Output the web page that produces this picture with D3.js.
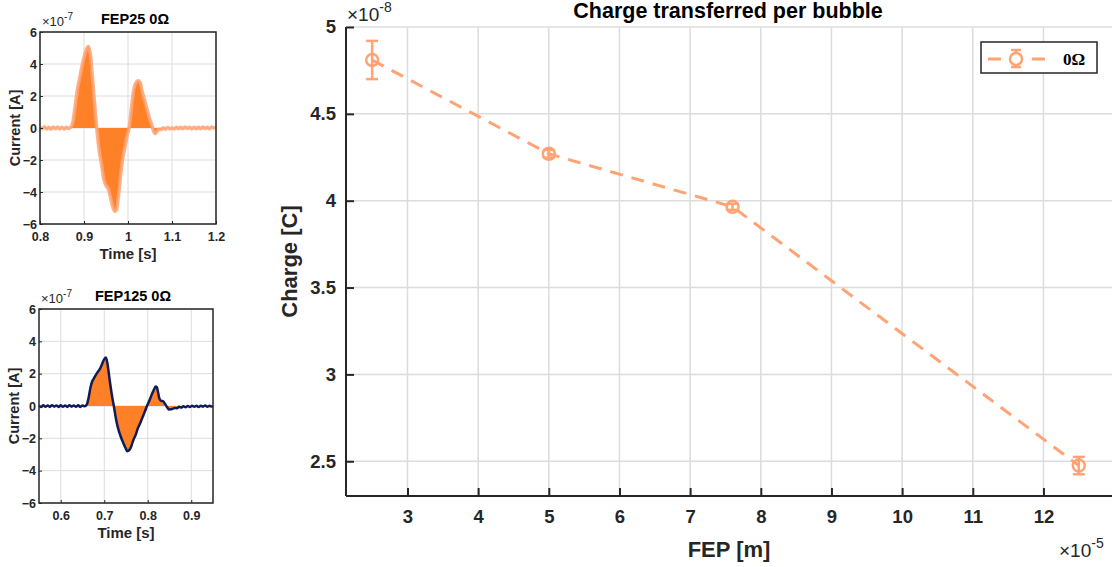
<!DOCTYPE html>
<html>
<head>
<meta charset="utf-8">
<script src="https://cdn.jsdelivr.net/npm/d3@7"></script>
<style>
  body { margin: 0; background: #fff; }
  svg { display: block; font-family: "Liberation Sans", Arial, sans-serif; }
  .tick text { font-weight: bold; fill: #262626; }
  .domain { display: none; }
</style>
</head>
<body>
<svg width="1116" height="567"></svg>
<script>
'use strict';

// ---- main chart data (FEP in 1e-5 m, charge in 1e-8 C)
const fep = [2.5, 5, 7.6, 12.5];
const charge = [4.81, 4.27, 3.965, 2.475];
const chargeErr = [0.11, 0.022, 0.018, 0.05];
const fepTicks = [3, 4, 5, 6, 7, 8, 9, 10, 11, 12];
const chargeTicks = [2.5, 3, 3.5, 4, 4.5, 5];

// ---- FEP25 current trace (time s, current 1e-7 A)
const timeA = [0.800, 0.805, 0.810, 0.815, 0.820, 0.825, 0.830, 0.835, 0.840, 0.845, 0.850, 0.855, 0.860, 0.865, 0.870,
  0.875, 0.880, 0.885, 0.890, 0.895, 0.900, 0.905, 0.910, 0.914, 0.918, 0.922, 0.926, 0.930, 0.935, 0.940,
  0.945, 0.950, 0.955, 0.960, 0.965, 0.970, 0.974, 0.978, 0.983, 0.988, 0.993, 0.998, 1.003, 1.008, 1.012,
  1.016, 1.020, 1.024, 1.028, 1.032, 1.036, 1.040, 1.045, 1.050, 1.054, 1.058, 1.062, 1.066, 1.070, 1.075,
  1.080, 1.085, 1.090, 1.095, 1.100, 1.105, 1.110, 1.115, 1.120, 1.125, 1.130, 1.135, 1.140, 1.145, 1.150,
  1.155, 1.160, 1.165, 1.170, 1.175, 1.180, 1.185, 1.190, 1.195, 1.200];
const currentA = [0.05, -0.05, 0.08, -0.06, 0.05, -0.08, 0.06, -0.04, 0.07, -0.06, 0.04, -0.07, 0.05, -0.03, 0.05,
  0.4, 1.4, 2.4, 3.1, 3.8, 4.4, 4.9, 5.1, 4.7, 3.6, 2.2, 0.9, -0.3, -1.5, -2.3,
  -3.2, -3.6, -3.8, -4.3, -4.9, -5.2, -5.1, -4.3, -3.0, -1.9, -1.2, -0.5, 0.1, 1.3, 2.2,
  2.7, 2.9, 2.95, 2.8, 2.3, 1.9, 1.5, 1.0, 0.5, 0.2, -0.2, -0.35, -0.2, -0.08, -0.1,
  0.02, -0.08, 0.03, -0.05, 0.0, -0.06, 0.04, -0.05, 0.05, -0.04, 0.06, -0.03, 0.05, -0.06, 0.04,
  -0.05, 0.05, -0.04, 0.06, -0.03, 0.05, -0.05, 0.06, 0.0, 0.05];

// ---- FEP125 current trace
const timeB = [0.550, 0.555, 0.560, 0.565, 0.570, 0.575, 0.580, 0.585, 0.590, 0.595, 0.600, 0.605, 0.610, 0.615, 0.620,
  0.625, 0.630, 0.635, 0.640, 0.645, 0.650, 0.655, 0.660, 0.664, 0.668, 0.672, 0.676, 0.680, 0.685, 0.690,
  0.695, 0.700, 0.704, 0.708, 0.713, 0.718, 0.722, 0.727, 0.732, 0.738, 0.744, 0.749, 0.753, 0.757, 0.762,
  0.767, 0.772, 0.777, 0.782, 0.788, 0.794, 0.799, 0.804, 0.809, 0.814, 0.818, 0.821, 0.824, 0.827, 0.831,
  0.835, 0.840, 0.845, 0.849, 0.853, 0.857, 0.862, 0.867, 0.872, 0.877, 0.882, 0.887, 0.892, 0.897, 0.902,
  0.907, 0.912, 0.917, 0.922, 0.927, 0.932, 0.937, 0.942, 0.947, 0.950];
const currentB = [0.02, -0.06, 0.04, -0.05, 0.03, -0.06, 0.05, -0.04, 0.03, -0.06, 0.04, -0.05, 0.03, -0.06, 0.05,
  -0.04, 0.03, -0.05, 0.04, -0.06, 0.03, -0.02, 0.1, 0.5, 1.1, 1.5, 1.7, 1.9, 2.1, 2.3,
  2.6, 2.9, 3.0, 2.5, 1.5, 0.6, 0.0, -0.8, -1.4, -1.9, -2.3, -2.6, -2.8, -2.75, -2.5,
  -2.1, -1.8, -1.4, -1.1, -0.7, -0.3, 0.05, 0.35, 0.7, 1.0, 1.2, 1.15, 0.8, 0.45, 0.32,
  0.3, 0.12, -0.1, -0.22, -0.2, -0.18, -0.12, -0.14, -0.05, -0.1, -0.02, -0.08, 0.0, -0.06, 0.02,
  -0.05, 0.01, -0.06, 0.02, -0.04, 0.03, -0.05, 0.02, -0.03, 0.0];

const svg = d3.select("svg");
const ink = "#262626";
const gridColor = "#dcdcdc";
const orange = "#ff8127";
const lightOrange = "#ffa375";

function drawTrace(opts) {
  const x = d3.scaleLinear().domain(opts.xDomain).range([opts.left, opts.right]);
  const y = d3.scaleLinear().domain([-6, 6]).range([opts.bottom, opts.top]);
  const g = svg.append("g");
  const data = opts.t.map((t, i) => ({t: t, v: opts.v[i]}));
  const yTicks = [-6, -4, -2, 0, 2, 4, 6];

  // grid
  g.selectAll(".gx").data(opts.xTicks).join("line")
    .attr("x1", d => x(d)).attr("x2", d => x(d))
    .attr("y1", opts.top).attr("y2", opts.bottom)
    .attr("stroke", gridColor).attr("stroke-width", 1);
  g.selectAll(".gy").data(yTicks).join("line")
    .attr("y1", d => y(d)).attr("y2", d => y(d))
    .attr("x1", opts.left).attr("x2", opts.right)
    .attr("stroke", gridColor).attr("stroke-width", 1);

  const area = d3.area().x(d => x(d.t)).y0(y(0)).y1(d => y(d.v)).curve(d3.curveMonotoneX);
  const line = d3.line().x(d => x(d.t)).y(d => y(d.v)).curve(d3.curveMonotoneX);
  g.append("path").datum(data).attr("d", area).attr("fill", orange);
  g.append("path").datum(data).attr("d", line)
    .attr("fill", "none").attr("stroke", opts.lineColor)
    .attr("stroke-width", opts.lineWidth).attr("stroke-opacity", opts.lineOpacity)
    .attr("stroke-linejoin", "round");

  // box
  g.append("rect").attr("x", opts.left).attr("y", opts.top)
    .attr("width", opts.right - opts.left).attr("height", opts.bottom - opts.top)
    .attr("fill", "none").attr("stroke", ink).attr("stroke-width", 1.5);

  const xAxis = d3.axisBottom(x).tickValues(opts.xTicks).tickSize(-3).tickPadding(8)
    .tickFormat(d3.format("~g"));
  g.append("g").attr("transform", "translate(0," + opts.bottom + ")").call(xAxis)
    .call(s => s.selectAll("text").attr("font-size", 12.5))
    .call(s => s.selectAll(".tick line").attr("stroke", ink));
  const yAxis = d3.axisLeft(y).tickValues(yTicks).tickSize(-3).tickPadding(3);
  g.append("g").attr("transform", "translate(" + opts.left + ",0)").call(yAxis)
    .call(s => s.selectAll("text").attr("font-size", 12.5))
    .call(s => s.selectAll(".tick line").attr("stroke", ink));

  const cx = (opts.left + opts.right) / 2;
  g.append("text").attr("x", opts.titleX).attr("y", opts.top - 8)
    .attr("text-anchor", "middle").attr("font-size", 14.5).attr("font-weight", "bold")
    .attr("fill", "#000").text(opts.title);
  const ex = g.append("text").attr("x", opts.left + 2).attr("y", opts.top - 6)
    .attr("font-size", 13).attr("fill", ink);
  ex.append("tspan").text("\u00d710");
  ex.append("tspan").attr("dy", -6).attr("font-size", 10).text("-7");
  g.append("text").attr("x", cx).attr("y", opts.bottom + 35)
    .attr("text-anchor", "middle").attr("font-size", 15).attr("font-weight", "bold")
    .attr("fill", ink).text("Time [s]");
  g.append("text")
    .attr("transform", "translate(" + (opts.left - 20) + "," + ((opts.top + opts.bottom) / 2) + ") rotate(-90)")
    .attr("text-anchor", "middle").attr("font-size", 14.5).attr("font-weight", "bold")
    .attr("fill", ink).text("Current [A]");
}

drawTrace({
  t: timeA, v: currentA, xDomain: [0.8, 1.2], xTicks: [0.8, 0.9, 1, 1.1, 1.2],
  left: 40, right: 216, top: 32, bottom: 224, title: "FEP25 0\u03a9", titleX: 135,
  lineColor: lightOrange, lineWidth: 3.5, lineOpacity: 0.85
});
drawTrace({
  t: timeB, v: currentB, xDomain: [0.55, 0.95], xTicks: [0.6, 0.7, 0.8, 0.9],
  left: 39, right: 213, top: 309, bottom: 503, title: "FEP125 0\u03a9", titleX: 133,
  lineColor: "#101c5a", lineWidth: 2.5, lineOpacity: 1
});

// ---- main chart
const margin = {left: 346, right: 1112, top: 27, bottom: 496};
const x = d3.scaleLinear().domain([2.13, 12.97]).range([margin.left, margin.right]);
const y = d3.scaleLinear().domain([2.3, 5]).range([margin.bottom, margin.top]);
const main = svg.append("g");
const pts = fep.map((f, i) => ({x: f, y: charge[i], e: chargeErr[i]}));

main.selectAll(".gx").data(fepTicks).join("line")
  .attr("x1", d => x(d)).attr("x2", d => x(d))
  .attr("y1", margin.top).attr("y2", margin.bottom)
  .attr("stroke", gridColor).attr("stroke-width", 1.5);
main.selectAll(".gy").data(chargeTicks).join("line")
  .attr("y1", d => y(d)).attr("y2", d => y(d))
  .attr("x1", margin.left).attr("x2", margin.right)
  .attr("stroke", gridColor).attr("stroke-width", 1.5);

main.append("path").datum(pts)
  .attr("d", d3.line().x(d => x(d.x)).y(d => y(d.y)))
  .attr("fill", "none").attr("stroke", lightOrange).attr("stroke-width", 3)
  .attr("stroke-dasharray", "13,9");

const eb = main.selectAll(".eb").data(pts).join("g").attr("stroke", lightOrange).attr("stroke-width", 2.5);
eb.append("line").attr("x1", d => x(d.x)).attr("x2", d => x(d.x))
  .attr("y1", d => y(d.y - d.e)).attr("y2", d => y(d.y + d.e));
eb.append("line").attr("x1", d => x(d.x) - 6).attr("x2", d => x(d.x) + 6)
  .attr("y1", d => y(d.y - d.e)).attr("y2", d => y(d.y - d.e));
eb.append("line").attr("x1", d => x(d.x) - 6).attr("x2", d => x(d.x) + 6)
  .attr("y1", d => y(d.y + d.e)).attr("y2", d => y(d.y + d.e));
eb.append("circle").attr("cx", d => x(d.x)).attr("cy", d => y(d.y)).attr("r", 6)
  .attr("fill", "none");

main.append("line").attr("x1", margin.left).attr("x2", margin.left)
  .attr("y1", margin.top).attr("y2", margin.bottom).attr("stroke", ink).attr("stroke-width", 2);
main.append("line").attr("x1", margin.left).attr("x2", margin.right)
  .attr("y1", margin.bottom).attr("y2", margin.bottom).attr("stroke", ink).attr("stroke-width", 2);

main.append("g").attr("transform", "translate(0," + margin.bottom + ")")
  .call(d3.axisBottom(x).tickValues(fepTicks).tickSize(-8).tickPadding(14))
  .call(s => s.selectAll("text").attr("font-size", 18.5))
  .call(s => s.selectAll(".tick line").attr("stroke", ink).attr("stroke-width", 2));
main.append("g").attr("transform", "translate(" + margin.left + ",0)")
  .call(d3.axisLeft(y).tickValues(chargeTicks).tickSize(-8).tickPadding(10).tickFormat(d3.format("~g")))
  .call(s => s.selectAll("text").attr("font-size", 18.5))
  .call(s => s.selectAll(".tick line").attr("stroke", ink).attr("stroke-width", 2));

main.append("text").attr("x", 728).attr("y", 18).attr("text-anchor", "middle")
  .attr("font-size", 21.5).attr("font-weight", "bold").attr("fill", "#000")
  .text("Charge transferred per bubble");
main.append("text").attr("x", 729).attr("y", 557).attr("text-anchor", "middle")
  .attr("font-size", 22).attr("font-weight", "bold").attr("fill", ink).text("FEP [m]");
main.append("text").attr("transform", "translate(297," + ((margin.top + margin.bottom) / 2) + ") rotate(-90)")
  .attr("text-anchor", "middle").attr("font-size", 22).attr("font-weight", "bold")
  .attr("fill", ink).text("Charge [C]");

const ey = main.append("text").attr("x", 347).attr("y", 21).attr("font-size", 19).attr("fill", ink);
ey.append("tspan").text("\u00d710");
ey.append("tspan").attr("dy", -9).attr("font-size", 14).text("-8");
const ex5 = main.append("text").attr("x", 1059).attr("y", 557).attr("font-size", 19).attr("fill", ink);
ex5.append("tspan").text("\u00d710");
ex5.append("tspan").attr("dy", -9).attr("font-size", 14).text("-5");

// legend
const lg = main.append("g");
lg.append("rect").attr("x", 981).attr("y", 42).attr("width", 116).attr("height", 31)
  .attr("fill", "#fff").attr("stroke", ink).attr("stroke-width", 1.5);
lg.append("line").attr("x1", 988).attr("x2", 1046).attr("y1", 59).attr("y2", 59)
  .attr("stroke", lightOrange).attr("stroke-width", 3).attr("stroke-dasharray", "13,9");
lg.append("line").attr("x1", 1016).attr("x2", 1016).attr("y1", 50).attr("y2", 67)
  .attr("stroke", lightOrange).attr("stroke-width", 2.5);
lg.append("line").attr("x1", 1011).attr("x2", 1021).attr("y1", 50).attr("y2", 50)
  .attr("stroke", lightOrange).attr("stroke-width", 2.5);
lg.append("line").attr("x1", 1011).attr("x2", 1021).attr("y1", 67).attr("y2", 67)
  .attr("stroke", lightOrange).attr("stroke-width", 2.5);
lg.append("circle").attr("cx", 1016).attr("cy", 59).attr("r", 6).attr("fill", "#fff")
  .attr("stroke", lightOrange).attr("stroke-width", 2.5);
lg.append("text").attr("x", 1063).attr("y", 65).attr("font-family", "Liberation Serif, serif")
  .attr("font-size", 17).attr("font-weight", "bold").attr("fill", "#000").text("0\u03a9");
</script>
</body>
</html>
